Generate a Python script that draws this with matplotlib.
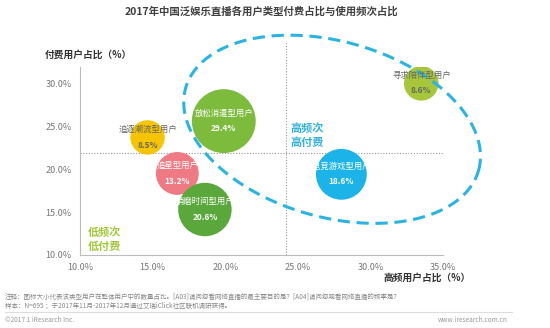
import numpy as np
import matplotlib
matplotlib.use("Agg")
import matplotlib.pyplot as plt

plt.rcParams['font.family'] = ['Noto Sans CJK SC', 'DejaVu Sans']

# Data
names = ["追逐潮流型用户", "放松消遣型用户", "追星型用户", "消磨时间型用户", "电竞游戏型用户", "寻求陪伴型用户"]
freq_share = [14.65, 19.9, 16.7, 18.6, 28.0, 33.5]      # x: 高频用户占比
pay_share = [23.7, 25.6, 19.5, 15.3, 19.4, 30.0]        # y: 付费用户占比
user_share = [8.5, 29.4, 13.2, 20.6, 18.6, 8.6]         # bubble size
colors = ["#F6C400", "#7DBB3C", "#EF7A83", "#5AA83C", "#1CB4E8", "#A8C63A"]
text_colors = ["#666666", "white", "white", "white", "white", "#666666"]

x_ticks = [10, 15, 20, 25, 30, 35]
y_ticks = [10, 15, 20, 25, 30]
cross_x = 24.2
cross_y = 21.9

fig = plt.figure(figsize=(5.5, 3.28), dpi=100)
ax = fig.add_axes([0.1455, 0.2226, 0.66, 0.573])

ax.set_xlim(10, 35)
ax.set_ylim(10, 31.9)

# quadrant crosshair
ax.axhline(cross_y, color="#999999", linestyle=(0, (1, 1.5)), linewidth=0.8, zorder=1)
ax.axvline(cross_x, ymax=1.14, color="#999999", linestyle=(0, (1, 1.5)), linewidth=0.8,
           zorder=1, clip_on=False)

sizes = [72 * v for v in user_share]
ax.scatter(freq_share, pay_share, s=sizes, c=colors, edgecolors="none", zorder=3)

for n, x, y, v, tc in zip(names, freq_share, pay_share, user_share, text_colors):
    ax.annotate(n, (x, y), xytext=(0, 5.5), textcoords="offset points",
                ha="center", va="center", fontsize=6, color=tc, zorder=5)
    ax.annotate(f"{v}%", (x, y), xytext=(0, -5.5), textcoords="offset points",
                ha="center", va="center", fontsize=6, color=tc, fontweight="bold", zorder=5)

# dashed ellipse drawn in pixel-like units so the tilt looks right on screen
px_x, px_y = 14.4, 8.6  # pixels per percent on each axis
ecx, ecy = 27.36, 24.65
ea, eb, eang = 151, 88, np.deg2rad(-16)
t = np.linspace(0, 2 * np.pi, 400)
u = ea * np.cos(t) * np.cos(eang) - eb * np.sin(t) * np.sin(eang)
w = ea * np.cos(t) * np.sin(eang) + eb * np.sin(t) * np.cos(eang)
ax.plot(ecx + u / px_x, ecy + w / px_y, color="#29B4E4", linestyle=(0, (4, 2.2)),
        linewidth=2.2, clip_on=False, zorder=4)

ax.text(24.5, 23.9, "高频次\n高付费", color="#33B1E0", fontsize=8, fontweight="bold",
        va="center", ha="left", linespacing=1.1)
ax.text(10.5, 11.8, "低频次\n低付费", color="#A3C83A", fontsize=8, fontweight="bold",
        va="center", ha="left", linespacing=1.1)

ax.set_xticks(x_ticks)
ax.set_yticks(y_ticks)
ax.set_xticklabels([f"{v:.1f}%" for v in x_ticks])
ax.set_yticklabels([f"{v:.1f}%" for v in y_ticks])
ax.tick_params(length=0, labelsize=6.5, labelcolor="#777777", pad=6)
for s in ["top", "right"]:
    ax.spines[s].set_visible(False)
for s in ["left", "bottom"]:
    ax.spines[s].set_color("#BBBBBB")
    ax.spines[s].set_linewidth(0.8)

fig.text(0.476, 0.965, "2017年中国泛娱乐直播各用户类型付费占比与使用频次占比",
         ha="center", va="center", fontsize=7.5, fontweight="bold", color="#404040")
fig.text(0.082, 0.832, "付费用户占比（%）", ha="left", va="center", fontsize=7,
         fontweight="bold", color="#333333")
fig.text(0.855, 0.152, "高频用户占比（%）", ha="right", va="center", fontsize=7,
         fontweight="bold", color="#333333")

fig.text(0.009, 0.095, "注释：图标大小代表该类型用户在整体用户中的数量占比。[A03]请问您看网络直播的最主要目的是？[A04]请问您观看网络直播的频率是？",
         ha="left", va="center", fontsize=4.7, color="#888888")
fig.text(0.009, 0.068, "样本：N=695 ；于2017年11月-2017年12月通过艾瑞iClick社区联机调研获得。",
         ha="left", va="center", fontsize=4.7, color="#888888")
fig.add_artist(plt.Line2D([0.009, 0.93], [0.049, 0.049], color="#DDDDDD", linewidth=0.8))
fig.text(0.009, 0.024, "©2017.1 iResearch Inc.", ha="left", va="center", fontsize=4.7, color="#999999")
fig.text(0.924, 0.024, "www.iresearch.com.cn", ha="right", va="center", fontsize=4.7, color="#999999")

fig.savefig("out.png", dpi=100)
